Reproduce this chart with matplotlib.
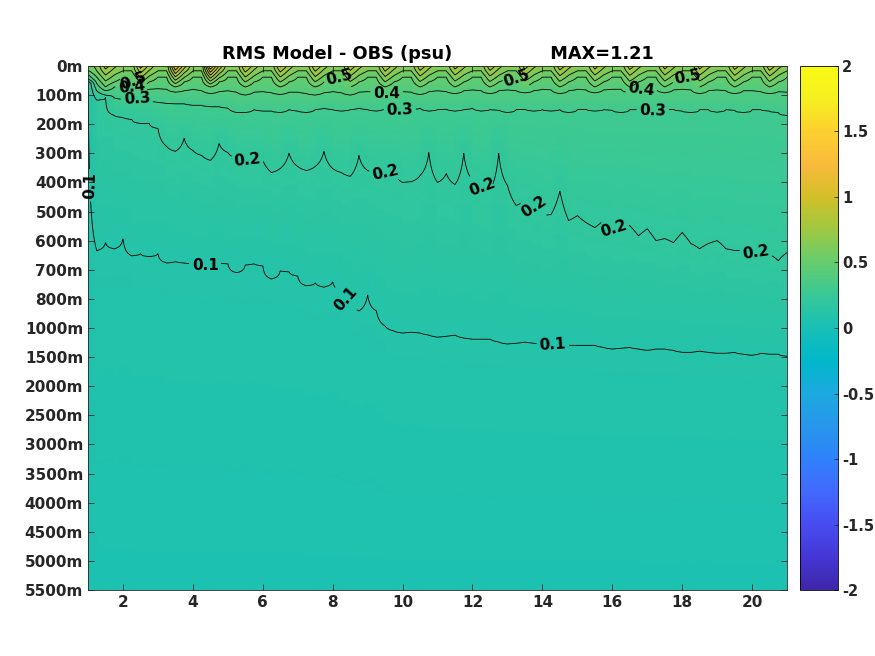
import numpy as np
import matplotlib
matplotlib.use('Agg')
import matplotlib.pyplot as plt
from matplotlib.colors import LinearSegmentedColormap

plt.rcParams['font.family'] = 'DejaVu Sans'
plt.rcParams['font.weight'] = 'bold'
plt.rcParams['axes.unicode_minus'] = False

# parula-like colormap (every 4th entry of the 64 level table)
parula_rgb = [
    [0.2422, 0.1504, 0.6603], [0.2706, 0.2147, 0.8364], [0.2813, 0.3006, 0.9414],
    [0.2602, 0.4123, 0.9952], [0.1834, 0.5074, 0.9798], [0.1540, 0.5902, 0.9218],
    [0.1113, 0.6635, 0.8763], [0.0036, 0.7203, 0.7917], [0.0964, 0.7500, 0.7120],
    [0.2161, 0.7843, 0.5923], [0.3909, 0.8029, 0.4354], [0.6174, 0.7876, 0.2612],
    [0.8203, 0.7498, 0.1535], [0.9728, 0.7298, 0.2394], [0.9892, 0.8136, 0.1885],
    [0.9628, 0.9373, 0.1265], [0.9769, 0.9839, 0.0805]]
parula = LinearSegmentedColormap.from_list('parula', parula_rgb, N=256)

depth_labels = ['0m', '100m', '200m', '300m', '400m', '500m', '600m', '700m', '800m',
                '1000m', '1500m', '2000m', '2500m', '3000m', '3500m', '4000m',
                '4500m', '5000m', '5500m']

# columns (time axis), every 0.25
x = np.arange(1, 21.001, 0.25)

# depth (in level index) where the field crosses 0.1 / 0.2 / 0.3 / 0.4
d01 = [0.60, 6.34, 6.07, 6.28, 5.93, 6.52, 6.45, 6.55, 6.45, 6.76, 6.72, 6.76, 6.79, 6.83,
       6.86, 6.76, 6.79, 7.10, 6.83, 6.79, 6.86, 7.31, 7.03, 7.07, 7.21, 7.55, 7.45, 7.59,
       7.41, 7.72, 8.07, 8.41, 7.86, 8.41, 8.93, 9.10, 9.17, 9.14, 9.17, 9.24, 9.31, 9.28,
       9.24, 9.34, 9.38, 9.38, 9.38, 9.48, 9.55, 9.52, 9.48, 9.52, 9.55, 9.55, 9.59, 9.59,
       9.59, 9.59, 9.59, 9.66, 9.72, 9.69, 9.66, 9.72, 9.76, 9.72, 9.72, 9.76, 9.83, 9.83,
       9.79, 9.83, 9.86, 9.86, 9.83, 9.90, 9.93, 9.86, 9.90, 9.90, 9.97]
d02 = [0.52, 1.17, 1.07, 1.69, 1.76, 1.83, 1.97, 1.97, 2.14, 2.76, 2.93, 2.48, 2.90, 3.07,
       3.24, 2.66, 2.97, 3.17, 3.24, 3.24, 3.24, 3.66, 3.52, 3.00, 3.45, 3.59, 3.45, 2.93,
       3.52, 3.66, 3.79, 3.07, 3.59, 3.66, 3.66, 3.66, 4.00, 3.97, 3.76, 2.97, 4.00, 3.69,
       4.07, 3.00, 3.93, 4.14, 4.28, 3.00, 4.10, 4.79, 4.62, 4.79, 5.14, 5.10, 4.30, 5.31,
       5.14, 5.38, 5.55, 5.31, 5.59, 5.66, 5.48, 5.83, 5.59, 6.00, 5.93, 6.07, 5.72, 6.10,
       6.28, 6.10, 6.00, 6.28, 6.34, 6.34, 6.41, 6.45, 6.48, 6.69, 6.41]
d03 = [0.45, 0.85, 1.00, 1.10, 1.15, 1.15, 1.10, 1.20, 1.25, 1.28, 1.30, 1.30, 1.35, 1.35,
       1.40, 1.40, 1.45, 1.60, 1.60, 1.50, 1.55, 1.55, 1.60, 1.50, 1.55, 1.60, 1.50, 1.45,
       1.50, 1.55, 1.50, 1.45, 1.50, 1.55, 1.45, 1.50, 1.52, 1.50, 1.45, 1.55, 1.50, 1.48,
       1.55, 1.50, 1.45, 1.55, 1.50, 1.52, 1.60, 1.50, 1.48, 1.55, 1.50, 1.55, 1.50, 1.60,
       1.50, 1.48, 1.55, 1.50, 1.52, 1.60, 1.50, 1.50, 1.55, 1.55, 1.50, 1.48, 1.55, 1.60,
       1.50, 1.50, 1.58, 1.50, 1.52, 1.60, 1.50, 1.50, 1.55, 1.60, 1.70]
d04 = [0.30, 0.60, 0.70, 0.72, 0.75, 0.72, 0.85, 0.80, 0.78, 0.80, 0.90, 0.85, 0.80, 0.85,
       0.95, 0.88, 0.85, 0.90, 1.00, 0.90, 0.88, 0.92, 0.98, 0.90, 0.90, 0.95, 1.00, 0.92,
       0.88, 0.92, 1.00, 0.90, 0.88, 0.90, 0.95, 0.90, 0.88, 0.90, 0.98, 0.88, 0.85, 0.88,
       0.95, 0.85, 0.82, 0.85, 0.95, 0.85, 0.82, 0.85, 0.92, 0.85, 0.80, 0.82, 0.95, 0.85,
       0.80, 0.82, 0.92, 0.82, 0.80, 0.80, 0.92, 0.80, 0.78, 0.80, 0.92, 0.82, 0.80, 0.82,
       0.95, 0.85, 0.82, 0.85, 0.95, 0.85, 0.85, 0.88, 0.95, 0.88, 0.90]

# surface peak of each yearly maximum (at x = 1.5, 2.5, ... 20.5)
spike_peak = [0.85, 0.95, 1.12, 1.21, 0.92, 0.92, 0.90, 0.88, 0.90, 0.88,
              0.85, 0.88, 0.85, 0.87, 0.85, 0.86, 0.85, 0.85, 0.86, 0.88]
surface_base = 0.63
bottom_value = 0.04

# build the field column by column
dz = np.linspace(0, 18, 721)
Z = np.zeros((len(dz), len(x)))
for i in range(len(x)):
    tail_d = [d04[i], d03[i], d02[i], d01[i], 18.0]
    tail_v = [0.4, 0.3, 0.2, 0.1, bottom_value]
    if i == 0:
        kd = [0.0, 0.15] + tail_d
        kv = [0.55, 0.5] + tail_v
    elif (i - 2) % 4 == 0:
        p = spike_peak[(i - 2) // 4]
        kd = [0.0, 0.72] + [max(tail_d[0], 0.85)] + tail_d[1:]
        kv = [p, 0.5] + tail_v
    elif (i - 3) % 4 == 0:
        p = spike_peak[(i - 3) // 4]
        kd = [0.0, 0.55] + tail_d
        kv = [surface_base + 0.45 * (p - surface_base), 0.5] + tail_v
    else:
        kd = [0.0, 0.17, 0.38] + tail_d
        kv = [surface_base, 0.6, 0.5] + tail_v
    Z[:, i] = np.interp(dz, kd, kv)

fig = plt.figure(figsize=(8.75, 6.56), dpi=100)
ax = fig.add_axes([0.1006, 0.1006, 0.7989, 0.7988])

mesh = ax.pcolormesh(x, dz, Z, cmap=parula, vmin=-2, vmax=2, shading='gouraud')
levels = np.round(np.arange(0.1, 1.25, 0.1), 1)
cs = ax.contour(x, dz, Z, levels=levels, colors='k', linewidths=0.6)

label_pos = [(2.52, 0.34), (8.19, 0.38), (13.44, 0.34), (18.16, 0.34),
             (2.26, 0.69), (9.54, 0.90), (16.82, 0.76),
             (2.40, 1.07), (9.91, 1.55), (17.16, 1.55),
             (5.56, 3.17), (9.51, 3.59), (12.26, 4.17), (13.81, 4.79), (16.04, 5.62), (20.11, 6.41),
             (1.09, 4.10), (4.35, 6.93), (8.39, 7.97), (14.30, 9.55)]
txts = ax.clabel(cs, levels=[0.1, 0.2, 0.3, 0.4, 0.5], manual=label_pos, inline=True,
                 inline_spacing=3, fontsize=11, fmt='%.1f')
for t in txts:
    t.set_fontweight('bold')
    t.set_clip_on(False)

ax.set_xlim(1, 21)
ax.set_ylim(18, 0)
ax.set_xticks(np.arange(2, 21, 2))
ax.set_yticks(np.arange(len(depth_labels)))
ax.set_yticklabels(depth_labels)
ax.tick_params(direction='in', length=4, width=0.6, top=True, right=True,
               labelsize=11, color='0.15', labelcolor='0.15')
for s in ax.spines.values():
    s.set_color('0.15')
    s.set_linewidth(0.6)

ax.set_title('RMS Model - OBS (psu)' + ' ' * 16 + 'MAX=%.2f' % Z.max(),
             fontsize=12.8, fontweight='bold', pad=5)

cax = fig.add_axes([0.9143, 0.1006, 0.0434, 0.7988])
cb = fig.colorbar(mesh, cax=cax, ticks=np.arange(-2, 2.01, 0.5))
cb.ax.set_yticklabels(['%g' % v for v in np.arange(-2, 2.01, 0.5)])
cb.ax.tick_params(labelsize=10.5, direction='in', length=3, width=0.6, pad=3,
                  color='0.15', labelcolor='0.15')
cb.outline.set_linewidth(0.6)

plt.savefig('out.png', dpi=100)
